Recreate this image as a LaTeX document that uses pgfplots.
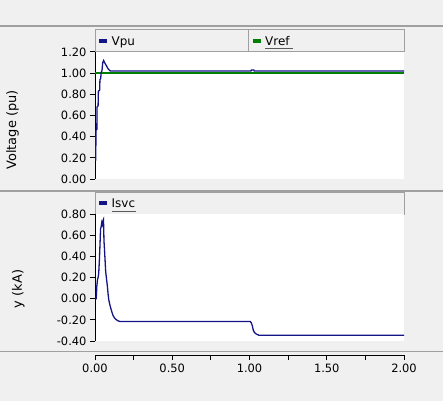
\documentclass[border=0pt]{standalone}
\usepackage{fontspec}
\setmainfont{DejaVu Sans}
\usepackage{pgfplots}
\pgfplotsset{compat=1.18}
\definecolor{bg}{RGB}{240,240,240}
\definecolor{sep}{RGB}{160,160,160}
\definecolor{vpu}{RGB}{20,20,135}
\definecolor{vref}{RGB}{0,128,0}
\definecolor{ul}{RGB}{90,90,90}
\pgfplotsset{
  panel/.style={
    scale only axis, width=309bp, height=127bp, anchor=south west,
    xmin=0, xmax=2, axis x line=none, axis y line*=left,
    tick align=outside, major tick length=5bp,
    axis background/.style={fill=white},
    axis line style={black, line width=1bp},
    every tick/.style={black, line width=1bp},
    yticklabel style={font=\fontsize{11.5}{13}\selectfont, text=black},
    /pgf/number format/fixed, /pgf/number format/fixed zerofill,
    /pgf/number format/precision=2, /pgf/number format/assume math mode=true,
  }
}
\begin{document}
\begin{tikzpicture}
\begin{scope}[x=1bp,y=1bp]
\fill[bg] (0,0) rectangle (443,401);
\useasboundingbox (0,0) rectangle (443,401);
\draw[sep, line width=1.5bp] (0,375) -- (443,375);
\draw[sep, line width=1.5bp] (0,210) -- (443,210);
\draw[sep, line width=1.5bp] (0,49.5) -- (443,49.5);
% top legend bar
\draw[fill=bg, draw=sep, line width=1bp] (95,350) rectangle (404,372);
\draw[sep, line width=1bp] (248,350) -- (248,372);
\fill[vpu] (98.5,358) rectangle (106.5,362.5);
\node[anchor=base west, inner sep=0pt, font=\fontsize{12}{14}\selectfont] at (111.5,355.5) {Vpu};
\fill[vref] (252.7,358) rectangle (260.7,362.5);
\node[anchor=base west, inner sep=0pt, font=\fontsize{12}{14}\selectfont] at (265,355.5) {Vref};
\draw[ul, line width=1.2bp] (265,352.3) -- (293,352.3);
% bottom legend bar
\draw[fill=bg, draw=sep, line width=1bp] (95,187) rectangle (404,209);
\fill[vpu] (98.5,196) rectangle (106.5,200.5);
\node[anchor=base west, inner sep=0pt, font=\fontsize{12}{14}\selectfont] at (111.5,193.7) {Isvc};
\draw[ul, line width=1.2bp] (111.5,189.5) -- (136,189.5);
% y labels
\node[rotate=90, font=\fontsize{13}{15}\selectfont] at (12.5,271) {Voltage (pu)};
\node[rotate=90, font=\fontsize{13}{15}\selectfont] at (18.3,112) {y (kA)};
\end{scope}

\begin{axis}[panel, at={(95bp,222bp)}, ymin=0, ymax=1.2,
  ytick={0,0.2,0.4,0.6,0.8,1.0,1.2}]
\addplot[vref, line width=1.5bp] coordinates {(0,1.0)(2,1.0)};
\addplot[vpu, line width=1.3bp] coordinates {
(0,0.18)(0.005,0.18)(0.006,0.46)(0.012,0.47)(0.013,0.68)(0.020,0.69)
(0.022,0.83)(0.030,0.84)(0.032,0.94)(0.037,0.95)(0.040,1.01)(0.045,1.02)
(0.050,1.10)(0.056,1.12)(0.062,1.10)(0.074,1.07)(0.085,1.04)(0.100,1.02)
(1.010,1.02)(1.012,1.03)(1.028,1.03)(1.030,1.02)(2.0,1.02)};
\end{axis}

\begin{axis}[panel, at={(95bp,60bp)}, ymin=-0.4, ymax=0.8,
  ytick={-0.4,-0.2,0,0.2,0.4,0.6,0.8}]
\addplot[vpu, line width=1.3bp] coordinates {
(0,0.0)(0.008,0.0)(0.012,0.12)(0.016,0.18)(0.020,0.20)(0.024,0.24)
(0.028,0.35)(0.032,0.50)(0.036,0.66)(0.040,0.68)(0.044,0.72)(0.048,0.70)
(0.052,0.74)(0.055,0.75)(0.058,0.55)(0.062,0.45)(0.069,0.26)(0.075,0.18)
(0.080,0.12)(0.085,0.04)(0.089,-0.01)(0.095,-0.05)(0.102,-0.09)(0.110,-0.13)
(0.117,-0.16)(0.128,-0.185)(0.139,-0.20)(0.150,-0.21)(0.160,-0.215)
(1.005,-0.215)(1.012,-0.23)(1.018,-0.255)(1.025,-0.30)(1.032,-0.32)
(1.045,-0.335)(1.060,-0.345)(2.0,-0.345)};
\end{axis}

\begin{axis}[scale only axis, width=309bp, height=10bp, anchor=south west,
  at={(95bp,46bp)}, xmin=0, xmax=2, ymin=0, ymax=1,
  hide y axis, axis x line*=bottom,
  axis line style={black, line width=1bp},
  every tick/.style={black, line width=1bp},
  tick align=outside, major tick length=5bp, minor tick length=5bp,
  xtick={0,0.5,1,1.5,2}, minor xtick={0.25,0.75,1.25,1.75},
  xticklabel style={font=\fontsize{11.5}{13}\selectfont, text=black},
  /pgf/number format/fixed, /pgf/number format/fixed zerofill,
  /pgf/number format/precision=2, /pgf/number format/assume math mode=true]
\addplot[draw=none] coordinates {(0,0)(2,0)};
\end{axis}
\end{tikzpicture}
\end{document}
